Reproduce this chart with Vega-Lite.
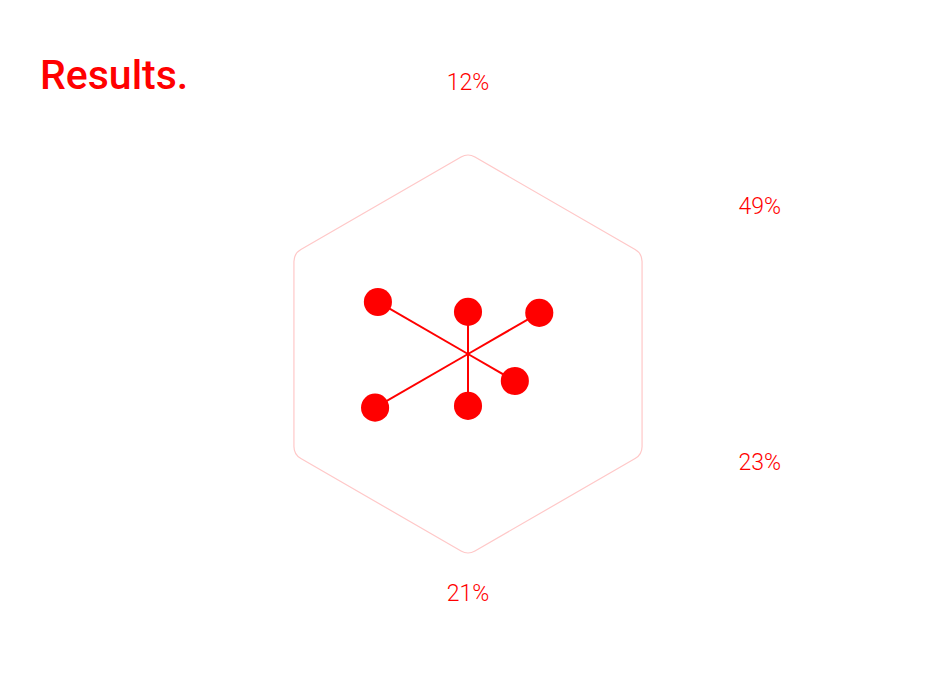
{
  "$schema": "https://vega.github.io/schema/vega-lite/v6.json",
  "width": 935,
  "height": 690,
  "autosize": {"type": "none"},
  "padding": 0,
  "background": "white",
  "title": {
    "text": "Results.",
    "anchor": "start",
    "frame": "group",
    "orient": "top",
    "offset": 0,
    "dx": 40,
    "dy": 130,
    "baseline": "alphabetic",
    "font": "Roboto",
    "fontSize": 41,
    "fontWeight": 500,
    "color": "#ff0000"
  },
  "config": {"view": {"stroke": null}},
  "datasets": {
    "scores": [
      {"axis": "A", "angle": 0, "value": 12, "label": "12%"},
      {"axis": "B", "angle": 60, "value": 49, "label": "49%"},
      {"axis": "C", "angle": 120, "value": 23, "label": "23%"},
      {"axis": "D", "angle": 180, "value": 21, "label": "21%"},
      {"axis": "E", "angle": 240, "value": 72, "label": ""},
      {"axis": "F", "angle": 300, "value": 69, "label": ""}
    ],
    "frame": [
      {"cx": 0, "cy": 0}
    ]
  },
  "layer": [
    {
      "data": {"name": "frame"},
      "mark": {
        "type": "point",
        "filled": false,
        "stroke": "#ffc8c8",
        "strokeWidth": 1.2,
        "opacity": 1,
        "size": 161604,
        "shape": "M-0.0346,-0.98 Q0,-1 0.0346,-0.98 L0.8314,-0.52 Q0.866,-0.5 0.866,-0.46 L0.866,0.46 Q0.866,0.5 0.8314,0.52 L0.0346,0.98 Q0,1 -0.0346,0.98 L-0.8314,0.52 Q-0.866,0.5 -0.866,0.46 L-0.866,-0.46 Q-0.866,-0.5 -0.8314,-0.52 Z"
      },
      "encoding": {
        "x": {"field": "cx", "type": "quantitative", "scale": {"domain": [-468, 467], "nice": false, "zero": false}, "axis": null},
        "y": {"field": "cy", "type": "quantitative", "scale": {"domain": [-336, 354], "nice": false, "zero": false}, "axis": null}
      }
    },
    {
      "data": {"name": "scores"},
      "transform": [
        {"calculate": "datum.angle * PI / 180", "as": "rad"},
        {"calculate": "29.1 + 1.086 * datum.value", "as": "r"},
        {"calculate": "datum.r * sin(datum.rad)", "as": "cx"},
        {"calculate": "datum.r * cos(datum.rad)", "as": "cy"}
      ],
      "mark": {"type": "rule", "stroke": "#ff0000", "strokeWidth": 2},
      "encoding": {
        "x": {"field": "cx", "type": "quantitative"},
        "y": {"field": "cy", "type": "quantitative"},
        "x2": {"datum": 0},
        "y2": {"datum": 0}
      }
    },
    {
      "data": {"name": "scores"},
      "transform": [
        {"calculate": "datum.angle * PI / 180", "as": "rad"},
        {"calculate": "29.1 + 1.086 * datum.value", "as": "r"},
        {"calculate": "datum.r * sin(datum.rad)", "as": "cx"},
        {"calculate": "datum.r * cos(datum.rad)", "as": "cy"}
      ],
      "mark": {"type": "point", "filled": true, "color": "#ff0000", "opacity": 1, "size": 790},
      "encoding": {
        "x": {"field": "cx", "type": "quantitative"},
        "y": {"field": "cy", "type": "quantitative"}
      }
    },
    {
      "data": {"name": "scores"},
      "transform": [
        {"filter": "datum.label != ''"},
        {"calculate": "datum.angle * PI / 180", "as": "rad"},
        {"calculate": "337 * sin(datum.rad)", "as": "cx"},
        {"calculate": "16 + 255.5 * cos(datum.rad) + 3.5 * abs(sin(datum.rad))", "as": "cy"}
      ],
      "mark": {"type": "text", "font": "Roboto", "fontSize": 23, "fontWeight": 300, "color": "#ff0000", "align": "center", "baseline": "middle"},
      "encoding": {
        "x": {"field": "cx", "type": "quantitative"},
        "y": {"field": "cy", "type": "quantitative"},
        "text": {"field": "label"}
      }
    }
  ]
}
